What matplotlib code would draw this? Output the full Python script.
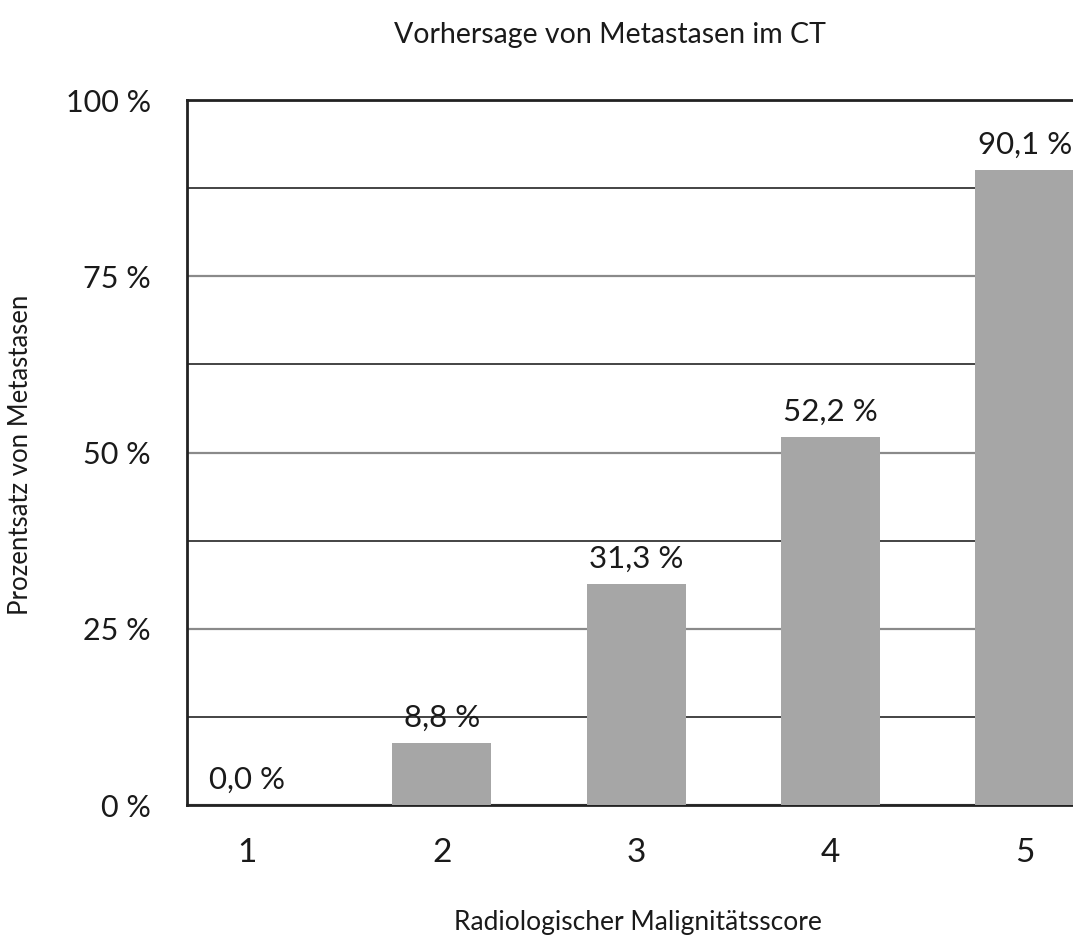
import numpy as np
import matplotlib
matplotlib.use("Agg")
import matplotlib.pyplot as plt
from matplotlib.ticker import MultipleLocator

plt.rcParams['font.family'] = ['Lato', 'DejaVu Sans']

scores = [1, 2, 3, 4, 5]
percent = [0.0, 8.8, 31.3, 52.2, 90.1]
labels = ["0,0 %", "8,8 %", "31,3 %", "52,2 %", "90,1 %"]
y_ticks = [0, 25, 50, 75, 100]
y_tick_labels = ["0 %", "25 %", "50 %", "75 %", "100 %"]

fig = plt.figure(figsize=(10.73, 9.47), dpi=100)
ax = fig.add_axes([0.1743, 0.1499, 0.8257, 0.7445])

ax.bar(scores, percent, width=0.51, color='#a6a6a6', zorder=3)

for x, v, lab in zip(scores, percent, labels):
    ax.annotate(lab, (x, v), xytext=(0, 8), textcoords='offset points',
                ha='center', va='bottom', fontsize=22.5, color='#1a1a1a')

ax.set_xlim(0.69, 5.247)
ax.set_ylim(0, 100)
ax.set_xticks(scores)
ax.set_xticklabels([str(s) for s in scores], fontsize=24, color='#1a1a1a')
ax.set_yticks(y_ticks)
ax.set_yticklabels(y_tick_labels, fontsize=22, color='#1a1a1a')
ax.yaxis.set_minor_locator(MultipleLocator(12.5))
ax.tick_params(axis='x', length=0, pad=24)
ax.tick_params(axis='y', which='both', length=0, pad=26)

ax.grid(axis='y', which='major', color='#8a8a8a', linewidth=1.6, zorder=1)
ax.grid(axis='y', which='minor', color='#111111', linewidth=1.1, zorder=1)

for side in ['left', 'top', 'bottom']:
    ax.spines[side].set_color('#222222')
    ax.spines[side].set_linewidth(2)
ax.spines['right'].set_visible(False)

fig.text(0.5685, 0.9635, "Vorhersage von Metastasen im CT", ha='center', va='center',
         fontsize=20.5, color='#1a1a1a')
fig.text(0.5946, 0.0127, "Radiologischer Malignitätsscore", ha='center', va='bottom',
         fontsize=19, color='#1a1a1a')
fig.text(0.019, 0.52, "Prozentsatz von Metastasen", rotation=90, ha='center', va='center',
         fontsize=18.5, color='#1a1a1a')

fig.savefig("out.png", dpi=100)
